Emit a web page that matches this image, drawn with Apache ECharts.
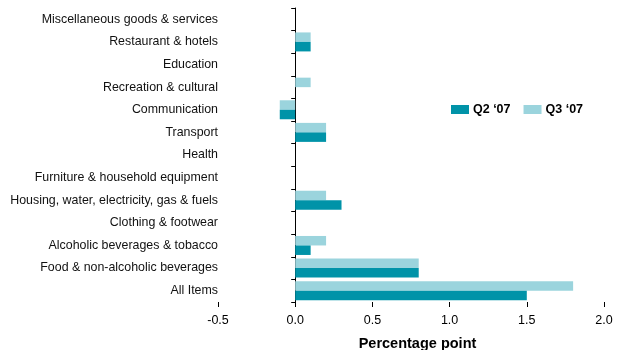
<!DOCTYPE html>
<html>
<head>
<meta charset="utf-8">
<script src="https://cdn.jsdelivr.net/npm/echarts@6/dist/echarts.min.js"></script>
<style>
  html, body { margin: 0; padding: 0; background: #fff; }
  #chart { width: 617px; height: 350px; }
</style>
</head>
<body>
<div id="chart"></div>
<script>
// Categories listed bottom to top (category axis starts at the bottom)
var categories = [
  'All Items',
  'Food & non-alcoholic beverages',
  'Alcoholic beverages & tobacco',
  'Clothing & footwear',
  'Housing, water, electricity, gas & fuels',
  'Furniture & household equipment',
  'Health',
  'Transport',
  'Communication',
  'Recreation & cultural',
  'Education',
  'Restaurant & hotels',
  'Miscellaneous goods & services'
];
var q2Values = [1.5, 0.8, 0.1, 0, 0.3, 0, 0, 0.2, -0.1, 0, 0, 0.1, 0];
var q3Values = [1.8, 0.8, 0.2, 0, 0.2, 0, 0, 0.2, -0.1, 0.1, 0, 0.1, 0];
var seriesNames = ['Q2 \u201807', 'Q3 \u201807'];
var xTicks = { min: -0.5, max: 2.0, interval: 0.5 };

var font = 'Arial, "Liberation Sans", sans-serif';
var chart = echarts.init(document.getElementById('chart'), null, { renderer: 'canvas' });

chart.setOption({
  animation: false,
  backgroundColor: '#ffffff',
  textStyle: { fontFamily: font },
  grid: { left: 218, right: 13, top: 8, bottom: 48, containLabel: false, outerBoundsMode: 'none' },
  legend: {
    data: seriesNames,
    left: 446,
    top: 98,
    itemWidth: 18,
    itemHeight: 9,
    itemGap: 13,
    icon: 'rect',
    textStyle: { fontFamily: font, fontSize: 12.5, fontWeight: 'bold', color: '#000', padding: [0, 0, 0, -1] }
  },
  xAxis: {
    type: 'value',
    min: xTicks.min,
    max: xTicks.max,
    interval: xTicks.interval,
    name: 'Percentage point',
    nameLocation: 'middle',
    nameGap: 34,
    nameTextStyle: { fontFamily: font, fontSize: 14.5, fontWeight: 'bold', color: '#000', padding: [0, 0, 0, 13] },
    axisLine: { onZero: false, lineStyle: { color: '#000', width: 1 } },
    axisTick: { show: true, length: 5, lineStyle: { color: '#000' } },
    axisLabel: {
      color: '#000', fontSize: 12.5, fontFamily: font, margin: 12,
      formatter: function (v) { return v.toFixed(1); }
    },
    splitLine: { show: false }
  },
  yAxis: [
    {
      // category labels along the left edge
      type: 'category',
      data: categories,
      position: 'left',
      axisLine: { show: false, onZero: false },
      axisTick: { show: false },
      axisLabel: { color: '#111', fontSize: 12.4, fontFamily: font, margin: 0, padding: [4, 0, 0, 0] },
      splitLine: { show: false }
    },
    {
      // zero line with band ticks
      type: 'category',
      data: categories,
      position: 'left',
      axisLine: { show: true, onZero: true, lineStyle: { color: '#000', width: 1 } },
      axisTick: { show: true, length: 4, lineStyle: { color: '#000' } },
      axisLabel: { show: false },
      splitLine: { show: false }
    }
  ],
  // Q3 is listed first so it sits above Q2 within each band
  series: [
    {
      name: seriesNames[1],
      type: 'bar',
      yAxisIndex: 0,
      data: q3Values,
      barGap: '0%',
      barCategoryGap: '16%',
      itemStyle: { color: '#9bd4dd' }
    },
    {
      name: seriesNames[0],
      type: 'bar',
      yAxisIndex: 0,
      data: q2Values,
      barGap: '0%',
      barCategoryGap: '16%',
      itemStyle: { color: '#0093a8' }
    }
  ]
});
</script>
</body>
</html>
